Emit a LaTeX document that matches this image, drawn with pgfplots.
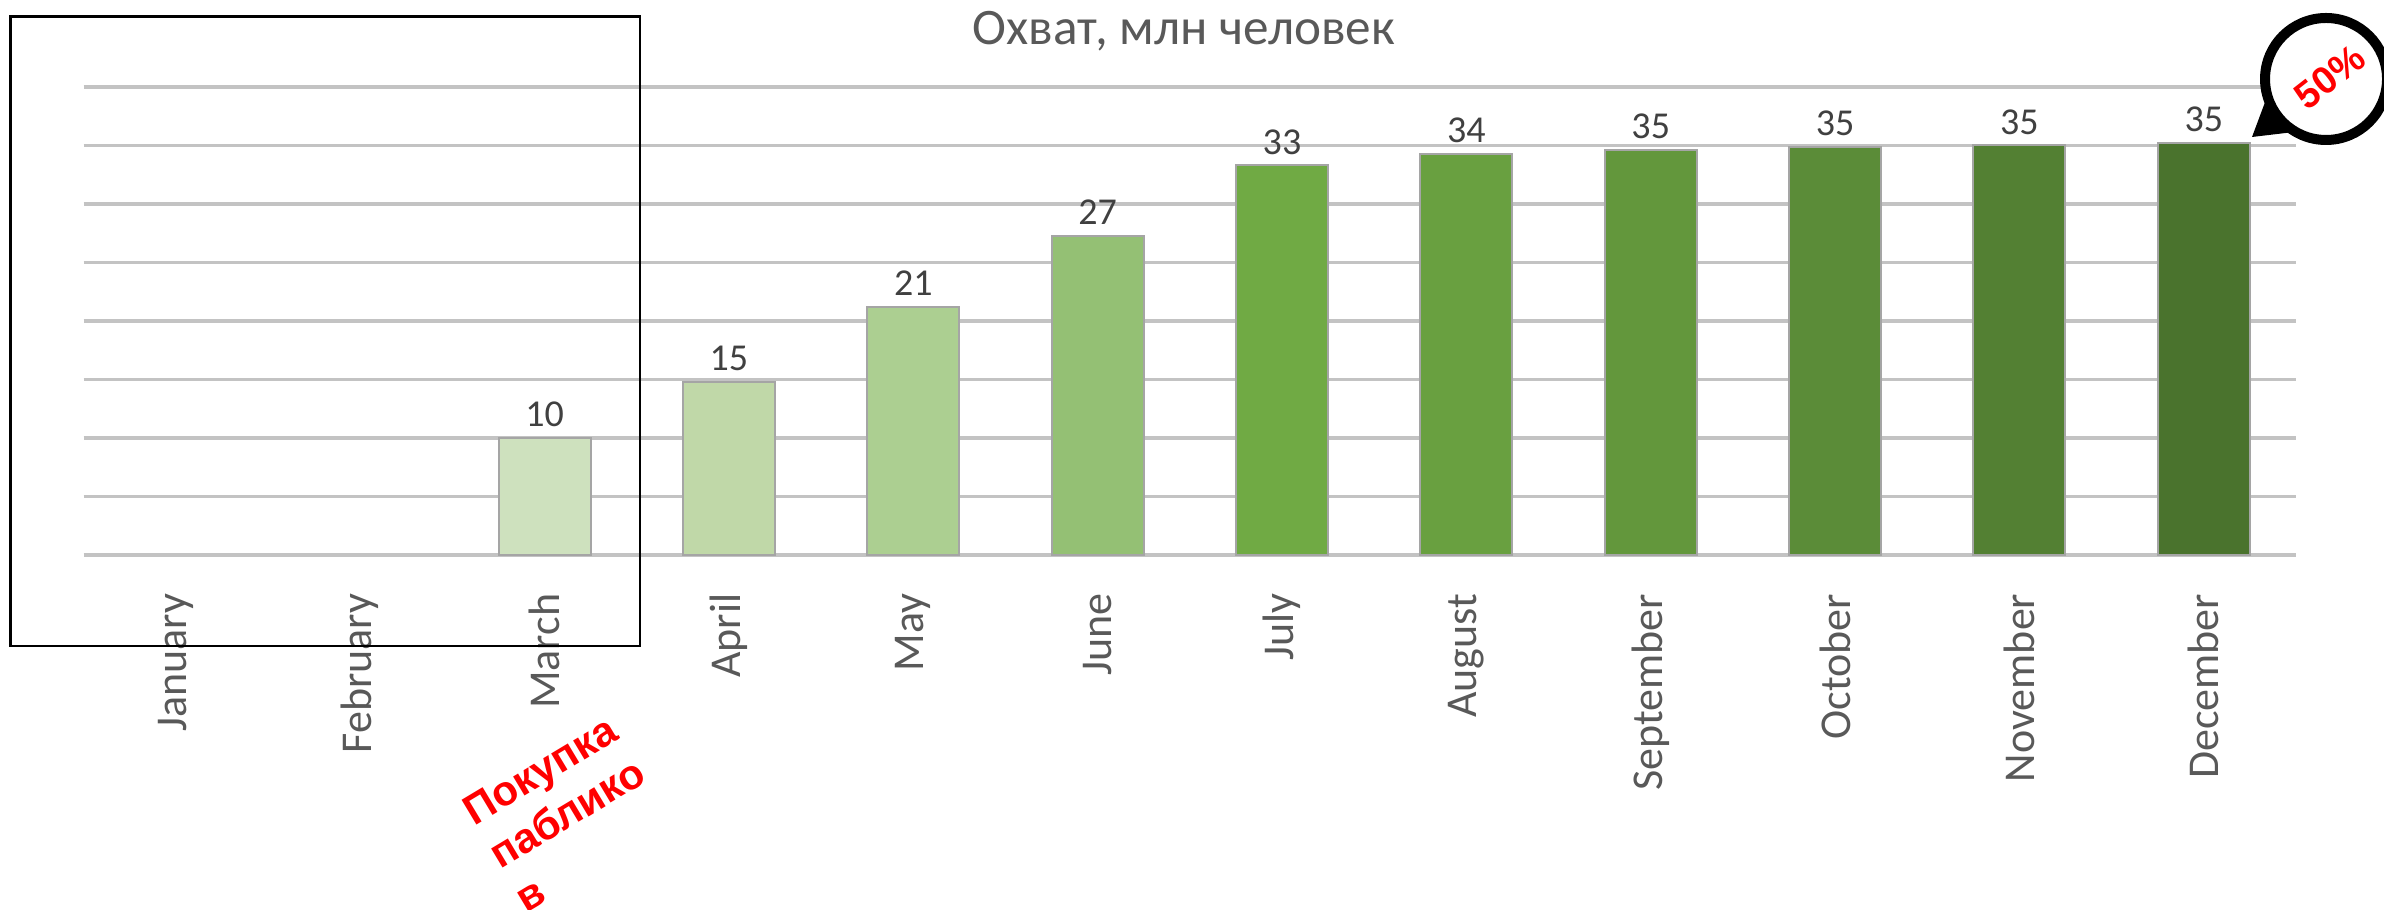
\documentclass[border=0pt]{standalone}
\usepackage{pgfplots}
\pgfplotsset{compat=1.18}
\usepackage{fontspec}
\setmainfont{Carlito}
\newfontfamily\redfont{Liberation Sans}
\definecolor{gridc}{RGB}{195,195,195}
\definecolor{txt}{RGB}{89,89,89}
\definecolor{lbl}{RGB}{64,64,64}
\definecolor{bordc}{RGB}{165,165,165}
\definecolor{c3}{RGB}{206,225,190}
\definecolor{c4}{RGB}{192,216,168}
\definecolor{c5}{RGB}{172,207,145}
\definecolor{c6}{RGB}{148,192,116}
\definecolor{c7}{RGB}{112,170,68}
\definecolor{c8}{RGB}{105,160,64}
\definecolor{c9}{RGB}{99,151,60}
\definecolor{c10}{RGB}{91,140,56}
\definecolor{c11}{RGB}{83,128,51}
\definecolor{c12}{RGB}{74,115,45}
\begin{document}
\begin{tikzpicture}
\useasboundingbox (0,0) rectangle (596pt,227.25pt);
\begin{axis}[
  at={(20.9pt,88.5pt)}, anchor=south west,
  scale only axis, width=553.1pt, height=117pt,
  xmin=-0.5, xmax=11.5, ymin=0, ymax=40,
  axis line style={draw=none},
  major tick length=0pt,
  xtick={0,...,11},
  xticklabels={January,February,March,April,May,June,July,August,September,October,November,December},
  xticklabel style={rotate=90, anchor=east, inner sep=0pt, font=\fontsize{11}{12}\selectfont, text=txt},
  xticklabel shift=9.5pt,
  ytick={0,5,...,40}, yticklabels={},
  ymajorgrids, grid style={gridc, line width=0.9pt},
  ybar, bar width=23pt,
  point meta=explicit symbolic,
  nodes near coords={\pgfplotspointmeta},
  nodes near coords style={font=\fontsize{9.5}{10}\selectfont, text=lbl, inner sep=0pt, anchor=south, yshift=2.5pt},
  clip=false,
  mybar/.style={fill=#1, draw=bordc, line width=0.5pt, bar shift=0pt},
]
\addplot[mybar=c3] coordinates {(2,10.0) [10]};
\addplot[mybar=c4] coordinates {(3,14.8) [15]};
\addplot[mybar=c5] coordinates {(4,21.2) [21]};
\addplot[mybar=c6] coordinates {(5,27.3) [27]};
\addplot[mybar=c7] coordinates {(6,33.3) [33]};
\addplot[mybar=c8] coordinates {(7,34.3) [34]};
\addplot[mybar=c9] coordinates {(8,34.6) [35]};
\addplot[mybar=c10] coordinates {(9,34.9) [35]};
\addplot[mybar=c11] coordinates {(10,35.0) [35]};
\addplot[mybar=c12] coordinates {(11,35.2) [35]};
\end{axis}
\node[font=\fontsize{12.8}{14}\selectfont, text=txt] at (296pt,219.5pt) {Охват, млн человек};
\draw[line width=0.7pt] (2.65pt,65.75pt) rectangle (160pt,223.1pt);
\node[rotate=31, align=left, text=red, inner sep=0pt, font=\redfont\bfseries\fontsize{10.5}{12.75}\selectfont] at (141.75pt,24pt) {Покупка\\паблико\\в};
\fill (563pt,193pt) -- ([shift={(196:15.25pt)}]581.5pt,207.5pt) -- ([shift={(240:15.25pt)}]581.5pt,207.5pt) -- cycle;
\draw[line width=2.5pt, fill=white] (581.5pt,207.5pt) circle[radius=15.25pt];
\node[rotate=38, text=red, inner sep=0pt, font=\redfont\bfseries\fontsize{9.6}{11}\selectfont] at (582.5pt,208pt) {50\%};
\end{tikzpicture}
\end{document}
